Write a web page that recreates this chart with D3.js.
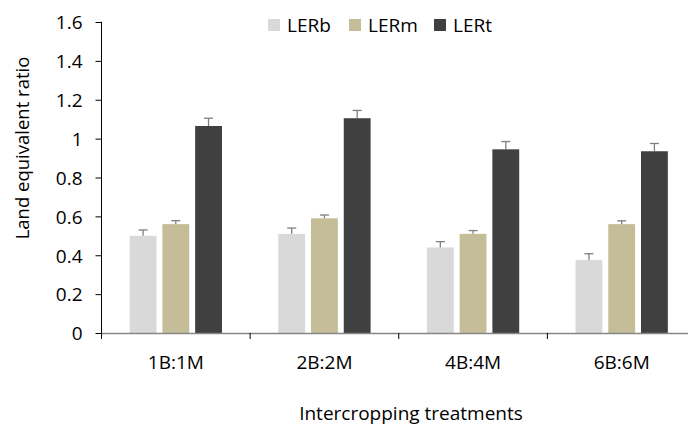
<!DOCTYPE html>
<html>
<head>
<meta charset="utf-8">
<script src="https://cdnjs.cloudflare.com/ajax/libs/d3/7.8.5/d3.min.js"></script>
<style>
  body { margin: 0; background: #fff; }
  svg { display: block; font-family: "Open Sans", sans-serif; }
</style>
</head>
<body>
<div id="chart"></div>
<script>
// data
var treatments = ["1B:1M", "2B:2M", "4B:4M", "6B:6M"];
var series = ["LERb", "LERm", "LERt"];
var LERb = [0.50, 0.51, 0.44, 0.375];
var LERm = [0.56, 0.59, 0.51, 0.56];
var LERt = [1.065, 1.105, 0.945, 0.935];
var errLERb = [0.03, 0.03, 0.03, 0.033];
var errLERm = [0.018, 0.017, 0.017, 0.017];
var errLERt = [0.04, 0.04, 0.04, 0.04];
var yTicks = [0, 0.2, 0.4, 0.6, 0.8, 1, 1.2, 1.4, 1.6];
var colors = ["#d9d9d9", "#c4bd97", "#404040"];

var values = { LERb: LERb, LERm: LERm, LERt: LERt };
var errors = { LERb: errLERb, LERm: errLERm, LERt: errLERt };

var width = 688, height = 425;
var mLeft = 101.5, mRight = 696, mTop = 22, mBottom = 333;
var fontFam = "'Open Sans', sans-serif";

var svg = d3.select("#chart").append("svg")
    .attr("width", width)
    .attr("height", height);

var x = d3.scaleBand().domain(treatments).range([mLeft, mRight]);
var xs = d3.scaleBand().domain(series).range([0, x.bandwidth()])
    .paddingInner(0.18).paddingOuter(0.86);
var y = d3.scaleLinear().domain([0, 1.6]).range([mBottom, mTop]);

// flatten for bars
var rows = [];
treatments.forEach(function(t, i) {
  series.forEach(function(s, j) {
    rows.push({ t: t, s: s, v: values[s][i], e: errors[s][i], c: colors[j] });
  });
});

// bars
svg.append("g").selectAll("rect")
  .data(rows)
  .join("rect")
    .attr("x", function(d) { return x(d.t) + xs(d.s); })
    .attr("y", function(d) { return y(d.v); })
    .attr("width", xs.bandwidth())
    .attr("height", function(d) { return y(0) - y(d.v); })
    .attr("fill", function(d) { return d.c; });

// error bars (upper only)
var eb = svg.append("g")
    .attr("stroke", "#7f7f7f")
    .attr("stroke-width", 1.3)
  .selectAll("g").data(rows).join("g");
eb.append("line")
    .attr("x1", function(d) { return x(d.t) + xs(d.s) + xs.bandwidth() / 2; })
    .attr("x2", function(d) { return x(d.t) + xs(d.s) + xs.bandwidth() / 2; })
    .attr("y1", function(d) { return y(d.v); })
    .attr("y2", function(d) { return y(d.v + d.e); });
eb.append("line")
    .attr("x1", function(d) { return x(d.t) + xs(d.s) + xs.bandwidth() / 2 - 4.5; })
    .attr("x2", function(d) { return x(d.t) + xs(d.s) + xs.bandwidth() / 2 + 4.5; })
    .attr("y1", function(d) { return y(d.v + d.e); })
    .attr("y2", function(d) { return y(d.v + d.e); });

// y axis
var yAxis = svg.append("g")
    .attr("transform", "translate(" + mLeft + ",0)")
    .call(d3.axisLeft(y).tickValues(yTicks).tickSize(6).tickPadding(13)
      .tickFormat(function(d) { return +d.toFixed(1); }))
    .attr("font-family", fontFam)
    .attr("font-size", 19);
yAxis.select(".domain").attr("stroke", "#000").attr("d", "M-0.5," + mTop + "H0V" + mBottom);
yAxis.selectAll(".tick line").attr("stroke", "#000");
yAxis.selectAll(".tick text").attr("dy", "0.36em").attr("fill", "#000");

// x axis: labels centered, ticks at category boundaries
var xAxis = svg.append("g")
    .attr("transform", "translate(0," + mBottom + ")")
    .call(d3.axisBottom(x).tickSize(0).tickPadding(23))
    .attr("font-family", fontFam)
    .attr("font-size", 19);
xAxis.select(".domain").attr("stroke", "#868686").attr("stroke-width", 1.5);
xAxis.selectAll(".tick text").attr("dy", "0.71em").attr("fill", "#000");
svg.append("g")
    .attr("stroke", "#000")
  .selectAll("line")
  .data(treatments)
  .join("line")
    .attr("x1", function(d) { return x(d); })
    .attr("x2", function(d) { return x(d); })
    .attr("y1", mBottom)
    .attr("y2", mBottom + 6);

// axis titles
svg.append("text")
    .attr("x", 411)
    .attr("y", 420)
    .attr("text-anchor", "middle")
    .style("font-size", "19px")
    .text("Intercropping treatments");
svg.append("text")
    .attr("transform", "translate(29,148) rotate(-90)")
    .attr("text-anchor", "middle")
    .style("font-size", "18.5px")
    .text("Land equivalent ratio");

// legend
var legX = [268, 349, 434];
var leg = svg.append("g").selectAll("g")
  .data(series)
  .join("g")
    .attr("transform", function(d, i) { return "translate(" + legX[i] + ",19)"; });
leg.append("rect")
    .attr("width", 12)
    .attr("height", 12)
    .attr("fill", function(d, i) { return colors[i]; });
leg.append("text")
    .attr("x", 19)
    .attr("y", 12.5)
    .style("font-size", "19px")
    .text(function(d) { return d; });
</script>
</body>
</html>
